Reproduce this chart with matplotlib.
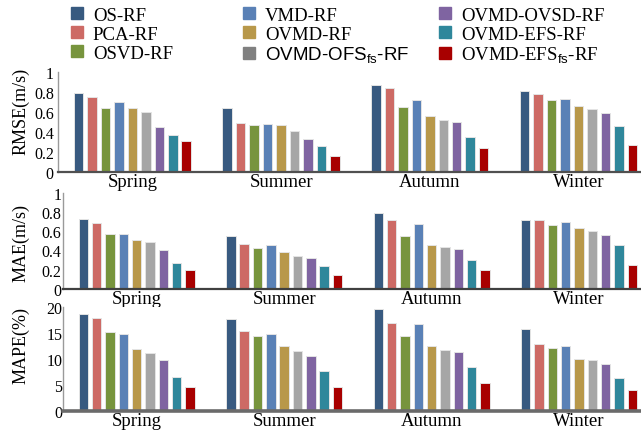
import matplotlib
matplotlib.use("Agg")
import matplotlib.pyplot as plt
import numpy as np

plt.rcParams['font.family'] = ['Liberation Serif', 'DejaVu Sans']
plt.rcParams['mathtext.fontset'] = 'custom'
plt.rcParams['mathtext.rm'] = 'Liberation Serif'
plt.rcParams['mathtext.sf'] = 'Liberation Sans'

# datos
estaciones = ["Spring", "Summer", "Autumn", "Winter"]
modelos = ["OS-RF", "PCA-RF", "OSVD-RF", "VMD-RF", "OVMD-RF",
           r"OVMD-OFS$_{\mathsf{fs}}$-RF", "OVMD-OVSD-RF", "OVMD-EFS-RF",
           r"OVMD-EFS$_{\mathsf{fs}}$-RF"]
colores = ["#385a80", "#cd6a65", "#77943d", "#5a81b6", "#b8984a",
           "#a6a6a6", "#7f64a1", "#2f879b", "#a80000"]
color_leyenda_gris = "#808080"

rmse = [
    [0.79, 0.64, 0.87, 0.81],   # OS-RF
    [0.75, 0.49, 0.84, 0.78],   # PCA-RF
    [0.64, 0.47, 0.65, 0.72],   # OSVD-RF
    [0.70, 0.48, 0.72, 0.735],  # VMD-RF
    [0.64, 0.47, 0.56, 0.66],   # OVMD-RF
    [0.60, 0.415, 0.525, 0.63], # OVMD-OFSfs-RF
    [0.45, 0.335, 0.50, 0.59],  # OVMD-OVSD-RF
    [0.37, 0.265, 0.355, 0.465],# OVMD-EFS-RF
    [0.31, 0.16, 0.24, 0.275],  # OVMD-EFSfs-RF
]
mae = [
    [0.73, 0.545, 0.79, 0.72],
    [0.68, 0.465, 0.715, 0.715],
    [0.575, 0.425, 0.55, 0.665],
    [0.565, 0.455, 0.67, 0.69],
    [0.505, 0.38, 0.455, 0.63],
    [0.49, 0.345, 0.44, 0.60],
    [0.40, 0.32, 0.41, 0.555],
    [0.265, 0.235, 0.30, 0.455],
    [0.195, 0.15, 0.20, 0.25],
]
mape = [
    [18.6, 17.6, 19.6, 15.65],
    [17.8, 15.3, 16.85, 12.9],
    [15.2, 14.3, 14.3, 12.15],
    [14.7, 14.75, 16.65, 12.4],
    [11.9, 12.45, 12.5, 9.98],
    [11.05, 11.45, 11.7, 9.73],
    [9.8, 10.55, 11.4, 9.1],
    [6.5, 7.75, 8.45, 6.35],
    [4.7, 4.7, 5.45, 4.1],
]

ticks_rmse = [0, 0.2, 0.4, 0.6, 0.8, 1]
ticks_mape = [0, 5, 10, 15, 20]

fig = plt.figure(figsize=(6.41, 4.31), dpi=100)
W, H = 641.0, 431.0

def panel(px_left, px_zero, px_top, datos, yticks, ylim, ylabel, ylab_y,
          ancho_eje, color_eje, pad_y):
    ax = fig.add_axes([px_left / W, 1 - px_zero / H,
                       (W - px_left) / W, (px_zero - px_top) / H])
    x = np.arange(len(estaciones))
    paso = 0.0905
    for i, vals in enumerate(datos):
        ax.bar(x + (i - 4) * paso, vals, width=0.064, color=colores[i],
               edgecolor="#e4e4e4", linewidth=0.7, zorder=2)
    ax.set_xlim(-0.5, 3.42)
    ax.set_ylim(*ylim)
    ax.set_xticks(x)
    ax.set_xticklabels(estaciones, fontsize=13.5)
    ax.set_yticks(yticks)
    ax.set_yticklabels([f"{t:g}" for t in yticks], fontsize=11.5)
    ax.tick_params(axis="x", length=0, pad=0.5)
    ax.tick_params(axis="y", length=0, pad=pad_y)
    ax.spines["top"].set_visible(False)
    ax.spines["right"].set_visible(False)
    ax.spines["left"].set_color("#9a9a9a")
    ax.spines["left"].set_linewidth(1.0)
    ax.spines["bottom"].set_color(color_eje)
    ax.spines["bottom"].set_linewidth(ancho_eje)
    fig.text(21 / W, 1 - ylab_y / H, ylabel, rotation=90, fontsize=13,
             ha="center", va="center")
    return ax

panel(58, 173, 73, rmse, ticks_rmse, (0, 1), "RMSE(m/s)", 111, 1.6, "#505050", 3)
panel(63, 290, 193.5, mae, ticks_rmse, (0, 1), "MAE(m/s)", 243, 1.6, "#404040", 1)
panel(63, 412.2, 307.6, mape, ticks_mape, (0, 20), "MAPE(%)", 346, 2.6, "#6a6a6a", 0.5)

# leyenda en tres columnas
columnas_x = [71, 243, 439]
for c in range(3):
    handles = []
    for k in range(3):
        i = c * 3 + k
        col = color_leyenda_gris if i == 5 else colores[i]
        handles.append(plt.Rectangle((0, 0), 1, 1, color=col))
    leg = fig.legend(handles, modelos[c * 3:c * 3 + 3], loc="upper left",
                     bbox_to_anchor=(columnas_x[c] / W, 1 - 8 / H),
                     frameon=False, fontsize=13.5, borderpad=0, borderaxespad=0,
                     handlelength=0.62, handleheight=0.6, handletextpad=0.55,
                     labelspacing=0.1)
    if c == 1:
        leg.get_texts()[2].set_fontfamily("Liberation Sans")

fig.savefig("out.png", dpi=100)
